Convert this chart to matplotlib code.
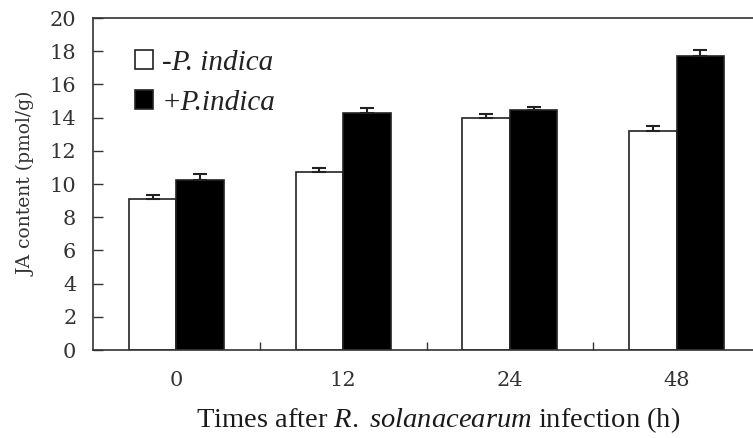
import matplotlib
matplotlib.use("Agg")
import matplotlib.pyplot as plt
import numpy as np

categories = ["0", "12", "24", "48"]
minus_pi = [9.1, 10.7, 14.0, 13.2]
minus_err = [0.25, 0.25, 0.2, 0.3]
plus_pi = [10.25, 14.3, 14.45, 17.7]
plus_err = [0.35, 0.3, 0.2, 0.4]

plt.rcParams['font.family'] = ['Liberation Serif', 'DejaVu Serif']
plt.rcParams['mathtext.fontset'] = 'custom'
plt.rcParams['mathtext.rm'] = 'Liberation Serif'
plt.rcParams['mathtext.it'] = 'Liberation Serif:italic'

fig = plt.figure(figsize=(7.53, 4.38), dpi=100)
ax = fig.add_axes([93/753, 88/438, 667/753, 332/438])

x = np.arange(len(categories))
w = 0.285
ekw = dict(ecolor='#222222', capsize=5, elinewidth=1.5, capthick=1.5)
ax.bar(x - w/2, minus_pi, w, color='white', edgecolor='#222222', linewidth=1.2,
       yerr=[np.zeros(4), minus_err], error_kw=ekw, label='-P. indica')
ax.bar(x + w/2, plus_pi, w, color='black', edgecolor='#222222', linewidth=1.2,
       yerr=[np.zeros(4), plus_err], error_kw=ekw, label='+P.indica')

ax.set_xlim(-0.5, 3.5)
ax.set_ylim(0, 20)
ax.set_yticks(np.arange(0, 21, 2))
ax.tick_params(axis='y', direction='in', length=7, width=1, labelsize=15, pad=12, colors='#333333')
for t in ax.get_yticklabels():
    t.set_family('DejaVu Serif')
ax.set_xticks(np.arange(0.5, 3.5, 1))
ax.set_xticklabels([])
ax.tick_params(axis='x', which='major', direction='in', length=6, width=1, colors='#333333')
ax.set_xticks(x, minor=True)
ax.set_xticklabels(categories, minor=True, family='DejaVu Serif')
ax.tick_params(axis='x', which='minor', length=0, labelsize=15, pad=15, colors='#333333')

for s in ['left', 'top', 'bottom']:
    ax.spines[s].set_linewidth(1.2)
    ax.spines[s].set_color('#333333')
ax.spines['right'].set_visible(False)

ax.set_ylabel('JA content (pmol/g)', fontsize=13.5, labelpad=10, family='DejaVu Serif', color='#333333')
ax.set_xlabel('Times after $\\mathit{R.}$ $\\mathit{solanacearum}$ infection (h)', fontsize=20.5, labelpad=11, color='#1a1a1a')
ax.xaxis.label.set_x((438 - 93) / 667)

leg = ax.legend(loc='upper left', bbox_to_anchor=(0.063, 0.905), frameon=False,
                borderaxespad=0, borderpad=0,
                prop=dict(family='Liberation Serif', style='italic', size=21),
                handlelength=0.62, handleheight=0.62, handletextpad=0.3, labelspacing=0.5)
for t in leg.get_texts():
    t.set_color('#222222')

fig.savefig('out.png', dpi=100)
